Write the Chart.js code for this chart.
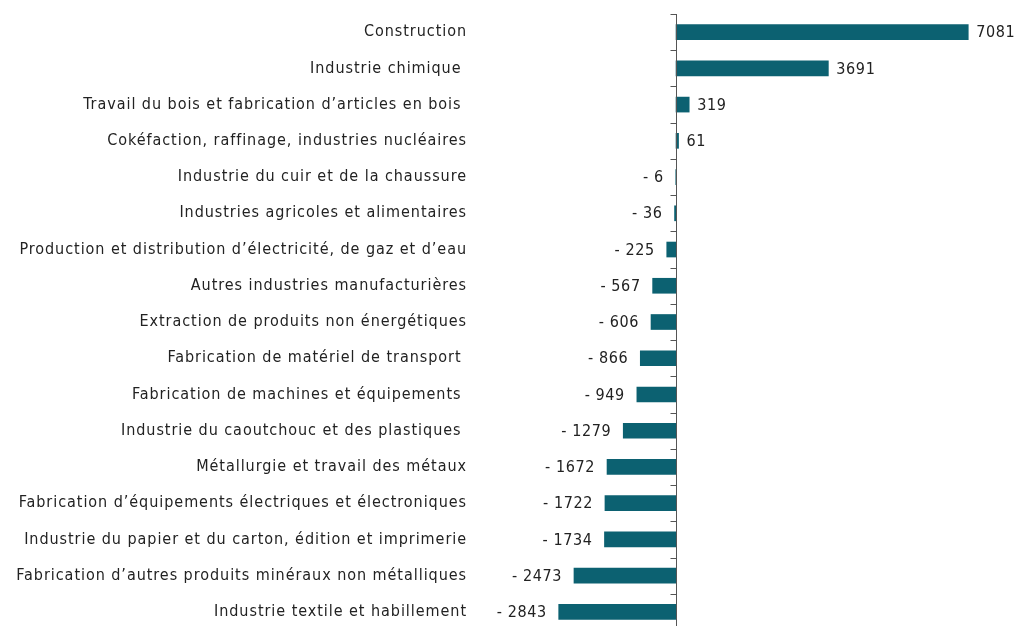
<!DOCTYPE html>
<html>
<head>
<meta charset="utf-8">
<script src="https://cdn.jsdelivr.net/npm/chart.js@4.4.0/dist/chart.umd.min.js"></script>
<style>
  html, body { margin: 0; padding: 0; background: #fff; overflow: hidden; }
  #wrap { width: 1014px; height: 632px; position: relative; }
</style>
</head>
<body>
<div id="wrap"><canvas id="barChart"></canvas></div>
<script>
// secteurs industriels et variation des effectifs
const sectors = [
    'Construction',
    'Industrie chimique ',
    'Travail du bois et fabrication d\u2019articles en bois ',
    'Cok\u00e9faction, raffinage, industries nucl\u00e9aires',
    'Industrie du cuir et de la chaussure',
    'Industries agricoles et alimentaires',
    'Production et distribution d\u2019\u00e9lectricit\u00e9, de gaz et d\u2019eau',
    'Autres industries manufacturi\u00e8res',
    'Extraction de produits non \u00e9nerg\u00e9tiques',
    'Fabrication de mat\u00e9riel de transport ',
    'Fabrication de machines et \u00e9quipements ',
    'Industrie du caoutchouc et des plastiques ',
    'M\u00e9tallurgie et travail des m\u00e9taux',
    'Fabrication d\u2019\u00e9quipements \u00e9lectriques et \u00e9lectroniques',
    'Industrie du papier et du carton, \u00e9dition et imprimerie',
    'Fabrication d\u2019autres produits min\u00e9raux non m\u00e9talliques',
    'Industrie textile et habillement'
];
const values = [7081, 3691, 319, 61, -6, -36, -225, -567, -606, -866, -949, -1279, -1672, -1722, -1734, -2473, -2843];

const FONT = '"Liberation Sans Narrow", "DejaVu Sans Condensed", sans-serif';

// espacement des lettres, comme dans l'original
const spacing = {
    id: 'spacing',
    beforeDraw(chart) {
        chart.ctx.letterSpacing = '0.95px';
    }
};

// étiquettes de valeur au bout des barres
const valueLabels = {
    id: 'valueLabels',
    afterDatasetsDraw(chart) {
        const ctx = chart.ctx;
        const meta = chart.getDatasetMeta(0);
        ctx.save();
        ctx.font = '16px ' + FONT;
        ctx.letterSpacing = '0.6px';
        ctx.fillStyle = '#222';
        ctx.textBaseline = 'middle';
        meta.data.forEach((bar, i) => {
            const v = values[i];
            if (v < 0) {
                ctx.textAlign = 'right';
                ctx.fillText('- ' + Math.abs(v), bar.x - 12, bar.y + 1);
            } else {
                ctx.textAlign = 'left';
                ctx.fillText(String(v), bar.x + 8, bar.y + 1);
            }
        });
        ctx.restore();
    }
};

// axe vertical au zéro avec petites graduations
const zeroAxis = {
    id: 'zeroAxis',
    afterDatasetsDraw(chart) {
        const ctx = chart.ctx;
        const x0 = Math.round(chart.scales.x.getPixelForValue(0)) + 0.5;
        const area = chart.chartArea;
        const step = (area.bottom - area.top) / sectors.length;
        ctx.save();
        ctx.strokeStyle = '#555';
        ctx.lineWidth = 1;
        ctx.beginPath();
        ctx.moveTo(x0, area.top);
        ctx.lineTo(x0, area.bottom);
        for (let i = 0; i <= sectors.length; i++) {
            const ty = Math.round(area.top + i * step) + 0.5;
            ctx.moveTo(x0 - 6, ty);
            ctx.lineTo(x0, ty);
        }
        ctx.stroke();
        ctx.restore();
    }
};

new Chart(document.getElementById('barChart').getContext('2d'), {
    type: 'bar',
    data: {
        labels: sectors,
        datasets: [{
            data: values,
            backgroundColor: '#0c6171',
            barThickness: 15
        }]
    },
    options: {
        indexAxis: 'y',
        responsive: true,
        maintainAspectRatio: false,
        animation: false,
        layout: { padding: { top: 14, bottom: 2, right: 14, left: 0 } },
        plugins: {
            legend: { display: false },
            tooltip: { enabled: false }
        },
        scales: {
            x: {
                display: false,
                min: -4750,
                max: 7850
            },
            y: {
                grid: { display: false, drawTicks: false },
                border: { display: false },
                ticks: {
                    color: '#222',
                    padding: 13,
                    font: { family: FONT, size: 16 }
                },
                afterFit(scale) {
                    scale.width = 480;
                    scale.paddingTop = 0;
                    scale.paddingBottom = 0;
                }
            }
        }
    },
    plugins: [spacing, valueLabels, zeroAxis]
});
</script>
</body>
</html>
